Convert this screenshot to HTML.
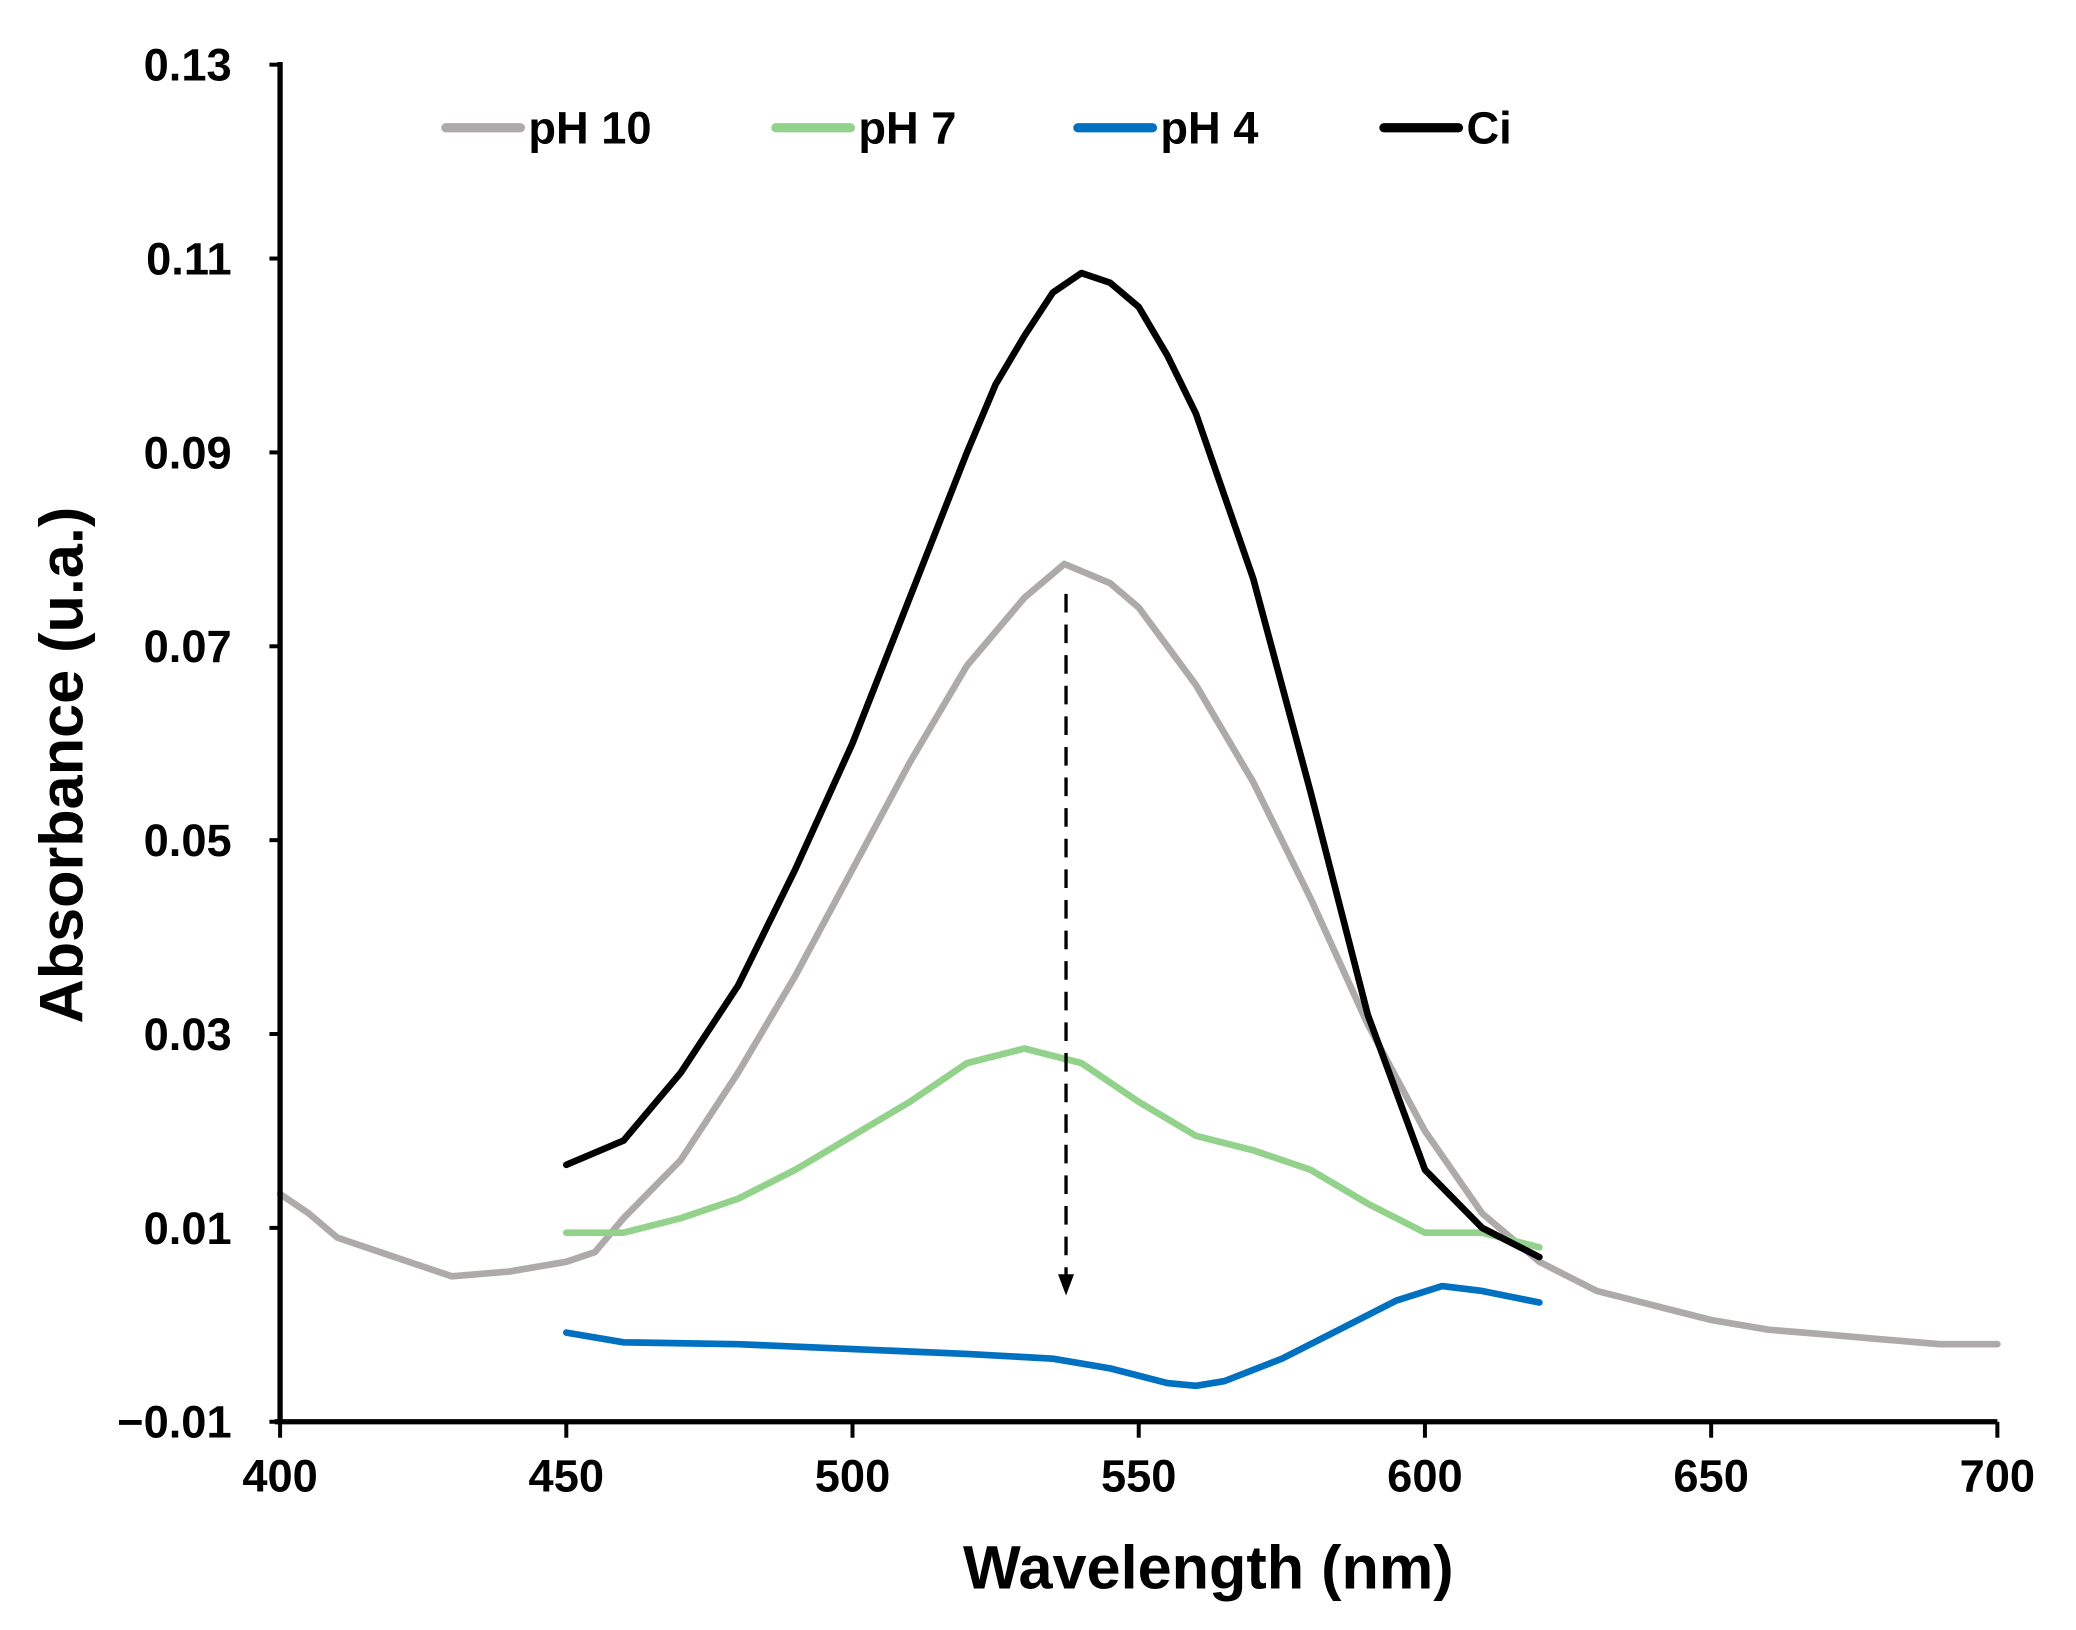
<!DOCTYPE html>
<html><head><meta charset="utf-8"><style>
html,body{margin:0;padding:0;background:#fff;}
svg{display:block;font-family:"Liberation Sans",Arial,sans-serif;font-weight:bold;}
</style></head><body>
<svg id="chart" width="2076" height="1630" viewBox="0 0 1560 1225" xmlns="http://www.w3.org/2000/svg">
<g id="plot"></g>
</svg>
<script>
const xTicks = [400,450,500,550,600,650,700];
const yTicks = [-0.01,0.01,0.03,0.05,0.07,0.09,0.11,0.13];
const yTickLabels = ["\u22120.01","0.01","0.03","0.05","0.07","0.09","0.11","0.13"];
const seriesNames = ["pH 10","pH 7","pH 4","Ci"];
const seriesColors = ["#aeaaaa","#92d28a","#0070c0","#000000"];
const wlPH10 = [400,405,410,420,430,440,450,455,460,470,480,490,500,510,520,530,537,545,550,560,570,580,590,600,610,620,630,640,650,660,670,680,690,700];
const absPH10 = [0.0135,0.0115,0.009,0.007,0.005,0.0055,0.0065,0.0075,0.011,0.017,0.026,0.036,0.047,0.058,0.068,0.075,0.0785,0.0765,0.074,0.066,0.056,0.044,0.031,0.020,0.0115,0.0065,0.0035,0.002,0.0005,-0.0005,-0.001,-0.0015,-0.002,-0.002];
const wlPH7 = [450,460,470,480,490,500,510,520,530,540,550,560,570,580,590,600,610,620];
const absPH7 = [0.0095,0.0095,0.011,0.013,0.016,0.0195,0.023,0.027,0.0285,0.027,0.023,0.0195,0.018,0.016,0.0125,0.0095,0.0095,0.008];
const wlPH4 = [450,460,480,500,520,535,545,555,560,565,575,585,595,603,610,620];
const absPH4 = [-0.0008,-0.0018,-0.002,-0.0025,-0.003,-0.0035,-0.0045,-0.006,-0.0063,-0.0058,-0.0035,-0.0005,0.0025,0.004,0.0035,0.0023];
const wlCi = [450,460,470,480,490,500,510,520,525,530,535,540,545,550,555,560,570,580,590,600,610,620];
const absCi = [0.0165,0.019,0.026,0.035,0.047,0.060,0.075,0.090,0.097,0.102,0.1065,0.1085,0.1075,0.105,0.1,0.094,0.077,0.055,0.032,0.016,0.010,0.007];
const arrowWl = 537.3;
const arrowFrom = 0.0754, arrowTo = 0.0033;

const X0=210.4,X1=1501,Y0=1068.5,Y1=48.6;
const sx=v=>X0+(v-400)/(700-400)*(X1-X0);
const sy=v=>Y0-(v+0.01)/(0.14)*(Y0-Y1);
const NS="http://www.w3.org/2000/svg";
const g=document.getElementById('plot');
function mk(tag,attrs,parent){const e=document.createElementNS(NS,tag);for(const k in attrs)e.setAttribute(k,attrs[k]);(parent||g).appendChild(e);return e;}

const data=[[wlPH10,absPH10],[wlPH7,absPH7],[wlPH4,absPH4],[wlCi,absCi]];
data.forEach((d,i)=>{
  const p=mk('polyline',{points:d[0].map((w,j)=>sx(w).toFixed(1)+','+sy(d[1][j]).toFixed(1)).join(' '),fill:'none',stroke:seriesColors[i],'stroke-width':5,'stroke-linejoin':'round','stroke-linecap':'round'});
  
  
});

const ax=sx(arrowWl);
const al=mk('line',{x1:ax,y1:sy(arrowFrom),x2:ax,y2:sy(arrowTo)-10,stroke:'#000','stroke-width':2.5,'stroke-dasharray':'14,9'});


const ah=mk('polygon',{points:`${ax-6},${sy(arrowTo)-14} ${ax+6},${sy(arrowTo)-14} ${ax},${sy(arrowTo)+2}`,fill:'#000'});



const ya=mk('line',{x1:X0,y1:Y1-2,x2:X0,y2:Y0+2,stroke:'#000','stroke-width':4});


const xa=mk('line',{x1:X0-4,y1:Y0,x2:X1,y2:Y0,stroke:'#000','stroke-width':4});



xTicks.forEach(t=>{
  const l=mk('line',{x1:sx(t),y1:Y0,x2:sx(t),y2:Y0+12,stroke:'#000','stroke-width':3});
  
  
  const tx=mk('text',{x:sx(t),y:1121,'text-anchor':'middle','font-size':34});
  tx.textContent=t;
  
  
});
yTicks.forEach((t,i)=>{
  const l=mk('line',{x1:X0-8,y1:sy(t),x2:X0,y2:sy(t),stroke:'#000','stroke-width':3});
  
  
  const tx=mk('text',{x:174,y:sy(t)+12,'text-anchor':'end','font-size':34});
  tx.textContent=yTickLabels[i];
  
  
});

const xt=mk('text',{x:908,y:1194,'text-anchor':'middle','font-size':46});
xt.textContent='Wavelength (nm)';


const yt=mk('text',{x:0,y:0,'text-anchor':'middle','font-size':46,transform:'translate(62,575) rotate(-90)'});
yt.textContent='Absorbance (u.a.)';



const legX=[335,583,810,1040];
seriesNames.forEach((n,i)=>{
  const lg=mk('g',{});
  
  
  mk('line',{x1:legX[i],y1:96,x2:legX[i]+56,y2:96,stroke:seriesColors[i],'stroke-width':7,'stroke-linecap':'round'},lg);
  const t=mk('text',{x:legX[i]+62,y:108,'font-size':34},lg);
  t.textContent=n;
});
</script>
</body></html>
